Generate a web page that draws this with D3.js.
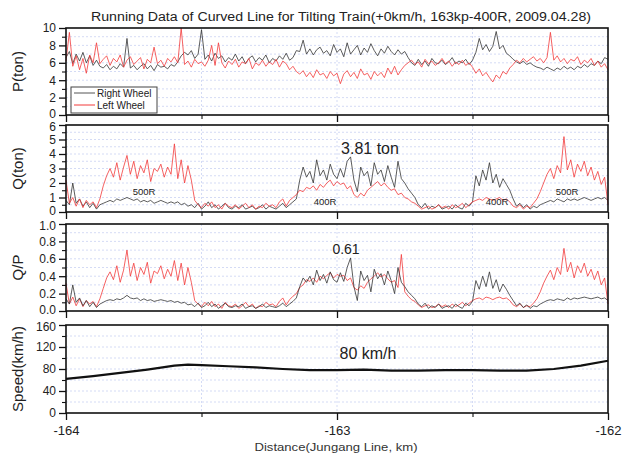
<!DOCTYPE html>
<html>
<head>
<meta charset="utf-8">
<script src="https://cdn.jsdelivr.net/npm/d3@7"></script>
<style>
  body { margin: 0; background: #fff; }
  text { font-family: "Liberation Sans", Arial, sans-serif; }
</style>
</head>
<body>
<div id="chart"></div>
<script>
// distance samples: -164 km onward, one reading every 12.5 m
var distStart = -164;
var distStep = 0.0125;

var pRight = [
  6.6, 7.3, 5.9, 7.0, 6.2, 7.2, 6.0, 6.8, 5.7, 6.3, 5.6,
  5.4, 5.8, 5.2, 5.6, 5.3, 5.9, 5.5, 8.8, 5.4, 5.7,
  5.2, 5.6, 5.9, 5.3, 5.7, 5.1, 5.8, 5.5, 5.6, 5.3,
  5.8, 5.6, 6.1, 6.8, 7.2, 6.9, 7.4, 6.5, 7.0, 9.8,
  6.4, 6.9, 6.2, 7.1, 6.5, 6.8, 6.1, 6.6, 6.3, 7.0,
  6.2, 6.7, 5.9, 6.5, 6.8, 6.1, 6.6, 6.3, 6.9, 6.0,
  6.5, 6.2, 6.8, 6.4, 7.1, 6.3, 6.6, 7.4,
  7.3, 8.6, 7.0, 7.6, 6.9, 7.5, 7.8, 7.1, 7.4, 6.8, 8.1, 7.2,
  7.6, 6.7, 8.3, 7.0, 7.5, 8.0, 6.9, 7.7, 7.2, 8.2,
  7.4, 6.8, 7.6, 7.1, 7.9, 7.3, 6.9, 7.5, 7.0, 7.3, 6.6,
  6.0, 5.7, 6.4, 5.8, 6.2, 5.6, 6.5, 6.0, 5.9, 6.3,
  5.8, 6.1, 6.6, 5.9, 6.2, 6.0, 6.4, 5.8, 6.3,
  7.2, 8.8, 7.5, 8.1, 7.3, 7.9, 9.6, 7.6, 8.0, 7.1, 6.8,
  6.4, 6.1, 5.9, 6.2, 5.8, 6.0, 5.7, 5.5, 5.4,
  5.2, 5.5, 5.3, 5.1, 5.4, 5.2, 5.6, 5.3, 5.5, 5.2,
  5.6, 5.4, 5.8, 5.5, 5.9, 5.7, 6.2, 5.9, 6.6, 6.4
];
var pLeft = [
  6.2, 9.5, 5.6, 6.8, 5.2, 6.5, 4.8, 6.9, 6.0, 8.3, 5.9,
  6.4, 6.8, 5.7, 6.5, 6.1, 6.9, 5.5, 6.3, 6.7, 5.8,
  6.2, 6.6, 5.3, 6.4, 6.0, 7.8, 5.9, 6.3, 5.6, 6.5,
  6.1, 6.7, 6.0, 10.0, 5.8, 6.2, 5.5, 6.4, 5.9, 6.1,
  5.6, 6.3, 8.0, 5.7, 8.3, 6.0, 5.4, 6.2, 5.8, 6.4,
  5.5, 6.1, 5.9, 6.5, 5.3, 6.0, 5.7, 6.3, 5.6, 6.1,
  5.8, 6.4, 5.5, 6.2, 5.9, 5.2, 5.6, 5.0,
  4.7, 5.1, 4.4, 4.9, 4.3, 5.2, 4.6, 4.8, 4.2, 5.0, 4.5, 4.8,
  3.6, 4.7, 5.1, 4.4, 4.9, 4.2, 5.3, 4.6, 4.8, 4.1,
  5.0, 4.5, 4.9, 4.3, 5.4, 4.7, 5.6, 4.6, 5.2, 5.7, 6.0,
  6.3, 5.8, 6.1, 5.5, 6.4, 5.9, 6.2, 5.7, 6.0, 6.5,
  5.9, 6.2, 5.6, 6.1, 5.8, 6.3, 5.7, 6.0, 5.5,
  4.8, 5.3, 4.5, 4.9, 4.3, 3.8, 4.6, 4.2, 5.0, 4.7, 5.4,
  5.8, 6.3, 6.0, 6.5, 6.1, 6.4, 6.7, 6.2, 6.5,
  6.0, 6.6, 9.5, 6.3, 6.8, 6.1, 6.5, 5.9, 6.4, 6.2,
  6.7, 5.8, 6.3, 6.0, 6.5, 5.7, 6.2, 5.5, 5.9, 5.2
];
var qRight = [
  0.8, 0.5, 2.0, 0.6, 0.9, 0.4, 0.7, 0.3, 0.6, 0.2, 0.5,
  0.6, 0.7, 0.8, 0.7, 0.9, 0.8, 0.9, 1.0, 0.9, 0.8,
  0.9, 0.7, 0.8, 0.7, 0.8, 0.6, 0.7, 0.8, 0.7, 0.6,
  0.7, 0.6, 0.7, 0.5, 0.6, 0.4, 0.5, 0.3, 0.6, 0.2,
  0.4, 0.7, 0.3, 0.5, 0.2, 0.4, 0.6, 0.3, 0.2, 0.4,
  0.3, 0.5, 0.2, 0.3, 0.4, 0.2, 0.3, 0.5, 0.2, 0.4,
  0.3, 0.2, 0.4, 0.6, 0.3, 0.5, 0.7, 0.9,
  2.2, 3.1, 2.4, 2.8, 2.0, 3.6, 2.5, 2.9, 2.2, 3.3, 2.6, 2.3,
  3.0, 2.4, 3.5, 3.8, 2.2, 1.4, 3.1, 2.5, 2.8, 1.8,
  3.4, 2.6, 2.9, 2.1, 3.2, 2.4, 1.7, 3.5, 2.3, 2.0, 1.6,
  1.3, 1.0, 0.5, 0.3, 0.6, 0.2, 0.4, 0.3, 0.5, 0.2,
  0.3, 0.4, 0.2, 0.5, 0.3, 0.2, 0.6, 0.4, 0.7,
  2.5, 1.8, 2.9, 2.2, 3.4, 2.0, 2.6, 1.7, 2.3, 1.9, 1.5,
  0.9, 0.4, 0.6, 0.3, 0.5, 0.2, 0.4, 0.3, 0.5,
  0.6, 0.7, 0.8, 0.7, 0.9, 0.8, 0.7, 0.9, 0.8, 0.9,
  0.8, 0.9, 1.0, 0.9, 0.8, 0.9, 1.0, 0.9, 1.0, 0.8
];
var qLeft = [
  2.2, 0.6, 1.0, 0.4, 0.9, 0.3, 0.8, 0.5, 0.7, 0.3, 0.9,
  1.8, 2.5, 3.0, 2.4, 3.4, 2.2, 3.1, 3.9, 2.6, 3.5,
  2.3, 3.2, 2.7, 3.6, 2.1, 3.0, 2.8, 3.3, 2.4, 3.1,
  2.6, 4.7, 2.3, 3.6, 2.0, 3.2, 2.2, 0.8, 0.5, 0.3,
  0.6, 0.4, 0.7, 0.3, 0.5, 0.2, 0.6, 0.4, 0.3, 0.5,
  0.2, 0.4, 0.6, 0.3, 0.5, 0.2, 0.4, 0.3, 0.6, 0.4,
  0.5, 0.3, 0.7, 0.9, 0.4, 0.8, 1.0, 1.2,
  1.5, 1.4, 1.7, 1.6, 1.8, 1.5, 1.9, 1.7, 2.0, 2.2, 1.8, 2.1,
  1.9, 2.0, 1.6, 1.8, 1.2, 1.0, 1.3, 1.1, 1.5, 1.7,
  1.9, 2.1, 1.8, 2.0, 1.7, 1.5, 1.6, 1.2, 1.3, 1.0, 0.9,
  0.7, 0.6, 0.4, 0.2, 0.3, 0.4, 0.2, 0.3, 0.5, 0.3,
  0.4, 0.2, 0.5, 0.3, 0.4, 0.6, 0.3, 0.5, 0.7,
  0.8, 0.9, 0.8, 1.0, 0.9, 0.8, 0.9, 1.0, 0.8, 0.9, 0.7,
  0.4, 0.3, 0.5, 0.2, 0.4, 0.3, 0.6, 0.9, 1.4,
  2.0, 2.6, 3.0, 2.3, 3.2, 2.7, 5.2, 2.9, 3.6, 2.4,
  3.3, 2.8, 3.5, 2.5, 3.1, 2.2, 2.8, 1.9, 2.4, 0.5
];
var qpRight = [
  0.14, 0.08, 0.30, 0.10, 0.15, 0.06, 0.12, 0.05, 0.10, 0.04, 0.08,
  0.10, 0.12, 0.13, 0.12, 0.14, 0.13, 0.15, 0.18, 0.15, 0.14,
  0.15, 0.12, 0.14, 0.12, 0.13, 0.11, 0.12, 0.13, 0.12, 0.11,
  0.12, 0.10, 0.11, 0.09, 0.10, 0.07, 0.08, 0.05, 0.09, 0.04,
  0.06, 0.10, 0.05, 0.08, 0.03, 0.06, 0.09, 0.05, 0.04, 0.06,
  0.05, 0.08, 0.03, 0.05, 0.06, 0.03, 0.05, 0.08, 0.04, 0.06,
  0.05, 0.04, 0.06, 0.09, 0.05, 0.08, 0.11, 0.15,
  0.28, 0.38, 0.33, 0.40, 0.30, 0.47, 0.35, 0.42, 0.32, 0.45, 0.36, 0.33,
  0.44, 0.34, 0.50, 0.61, 0.28, 0.12, 0.46, 0.35, 0.41, 0.22,
  0.48, 0.37, 0.43, 0.30, 0.46, 0.35, 0.20, 0.50, 0.33, 0.28, 0.22,
  0.18, 0.14, 0.08, 0.05, 0.09, 0.03, 0.06, 0.04, 0.08, 0.03,
  0.05, 0.06, 0.03, 0.08, 0.05, 0.03, 0.09, 0.06, 0.11,
  0.35, 0.25, 0.40, 0.28, 0.45, 0.26, 0.36, 0.22, 0.31, 0.25, 0.18,
  0.12, 0.06, 0.09, 0.04, 0.07, 0.03, 0.06, 0.05, 0.08,
  0.10, 0.12, 0.13, 0.12, 0.14, 0.13, 0.12, 0.15, 0.13, 0.15,
  0.14, 0.15, 0.16, 0.15, 0.14, 0.15, 0.16, 0.14, 0.15, 0.12
];
var qpLeft = [
  0.32, 0.08, 0.16, 0.06, 0.14, 0.05, 0.12, 0.08, 0.11, 0.05, 0.14,
  0.26, 0.38, 0.45, 0.36, 0.52, 0.33, 0.47, 0.70, 0.40, 0.55,
  0.35, 0.50, 0.42, 0.56, 0.32, 0.46, 0.43, 0.52, 0.37, 0.48,
  0.40, 0.58, 0.35, 0.55, 0.30, 0.50, 0.33, 0.12, 0.08, 0.05,
  0.10, 0.06, 0.11, 0.05, 0.08, 0.03, 0.10, 0.06, 0.05, 0.08,
  0.03, 0.06, 0.10, 0.05, 0.08, 0.03, 0.06, 0.05, 0.10, 0.07,
  0.08, 0.05, 0.11, 0.15, 0.07, 0.13, 0.17, 0.20,
  0.27, 0.30, 0.36, 0.34, 0.38, 0.33, 0.40, 0.37, 0.41, 0.44, 0.38, 0.42,
  0.40, 0.41, 0.35, 0.38, 0.27, 0.24, 0.29, 0.26, 0.33, 0.37,
  0.40, 0.44, 0.39, 0.42, 0.37, 0.33, 0.35, 0.27, 0.65, 0.22, 0.17,
  0.13, 0.11, 0.07, 0.04, 0.06, 0.07, 0.04, 0.05, 0.08, 0.05,
  0.07, 0.04, 0.08, 0.05, 0.07, 0.10, 0.06, 0.09, 0.12,
  0.14, 0.15, 0.13, 0.16, 0.15, 0.13, 0.15, 0.16, 0.14, 0.15, 0.12,
  0.07, 0.05, 0.08, 0.04, 0.06, 0.05, 0.09, 0.14, 0.22,
  0.32, 0.40, 0.47, 0.36, 0.50, 0.42, 0.72, 0.45, 0.56, 0.38,
  0.52, 0.44, 0.55, 0.40, 0.48, 0.36, 0.46, 0.30, 0.38, 0.08
];

var speedDist = [-164, -163.9, -163.8, -163.7, -163.6, -163.55, -163.5, -163.4, -163.3, -163.2, -163.1,
  -163, -162.9, -162.8, -162.7, -162.6, -162.5, -162.4, -162.3, -162.2, -162.1, -162];
var speedVals = [62, 67, 73, 79, 86, 88, 87, 85, 83, 80, 78,
  78, 79, 77, 77, 78, 78, 77, 77, 80, 86, 95];

var xTicks = [-164, -163, -162];
var xMinorTicks = [-163.5, -162.5];

var svg = d3.select('#chart').append('svg')
  .attr('width', 623)
  .attr('height', 456);

var x = d3.scaleLinear().domain([-164, -162]).range([66, 608]);

var toPoints = function(vals){
  return vals.map(function(v, i){ return [distStart + i * distStep, v]; });
};

// plain hyphen minus like the original plot
var plainFmt = function(d){ return String(d); };

var panels = [
  { top: 28, h: 87, domain: [0, 10], ticks: [0, 2, 4, 6, 8, 10], minor: [1, 3, 5, 7, 9],
    fmt: plainFmt, label: 'P(ton)',
    series: [{ pts: toPoints(pRight), color: '#333', w: 0.8 }, { pts: toPoints(pLeft), color: '#f23a3a', w: 0.8 }] },
  { top: 125, h: 87, domain: [0, 6], ticks: [0, 1, 2, 3, 4, 5, 6], minor: [0.5, 1.5, 2.5, 3.5, 4.5, 5.5],
    fmt: plainFmt, label: 'Q(ton)',
    series: [{ pts: toPoints(qRight), color: '#333', w: 0.8 }, { pts: toPoints(qLeft), color: '#f23a3a', w: 0.8 }] },
  { top: 224, h: 87, domain: [0, 1], ticks: [0, 0.2, 0.4, 0.6, 0.8, 1], minor: [0.1, 0.3, 0.5, 0.7, 0.9],
    fmt: d3.format('.1f'), label: 'Q/P',
    series: [{ pts: toPoints(qpLeft), color: '#f23a3a', w: 0.8 }, { pts: toPoints(qpRight), color: '#333', w: 0.8 }] },
  { top: 325, h: 88, domain: [0, 160], ticks: [0, 40, 80, 120, 160], minor: [20, 60, 100, 140],
    fmt: plainFmt, label: 'Speed(km/h)',
    series: [{ pts: d3.zip(speedDist, speedVals), color: '#111', w: 2.2 }] }
];

panels.forEach(function(p, pi){
  var y = d3.scaleLinear().domain(p.domain).range([p.top + p.h, p.top]);
  var g = svg.append('g');

  // dotted grid
  var gridY = p.ticks.concat(p.minor).filter(function(v){ return v > p.domain[0] && v < p.domain[1]; });
  g.selectAll('line.hg').data(gridY).enter().append('line')
    .attr('x1', 66).attr('x2', 608)
    .attr('y1', function(d){ return y(d); })
    .attr('y2', function(d){ return y(d); })
    .attr('stroke', '#c9d2f2')
    .attr('stroke-width', 0.8)
    .attr('stroke-dasharray', '2,2');
  g.selectAll('line.vg').data([-163.5, -163, -162.5]).enter().append('line')
    .attr('x1', function(d){ return x(d); })
    .attr('x2', function(d){ return x(d); })
    .attr('y1', p.top).attr('y2', p.top + p.h)
    .attr('stroke', '#c9d2f2')
    .attr('stroke-width', 0.8)
    .attr('stroke-dasharray', '2,2');

  var line = d3.line()
    .x(function(d){ return x(d[0]); })
    .y(function(d){ return y(d[1]); });

  p.series.forEach(function(s){
    g.append('path')
      .datum(s.pts)
      .attr('d', line)
      .attr('fill', 'none')
      .attr('stroke', s.color)
      .attr('stroke-width', s.w)
      .attr('stroke-linejoin', 'round');
  });

  g.append('rect')
    .attr('x', 66).attr('y', p.top)
    .attr('width', 542).attr('height', p.h)
    .attr('fill', 'none')
    .attr('stroke', '#111')
    .attr('stroke-width', 1.6);

  // y axis, major and minor ticks
  var yAx = g.append('g').attr('transform', 'translate(66,0)')
    .call(d3.axisLeft(y).tickValues(p.ticks).tickSize(7).tickPadding(3).tickFormat(p.fmt));
  yAx.select('.domain').remove();
  yAx.selectAll('line').attr('stroke', '#111').attr('stroke-width', 1.3);
  yAx.selectAll('text').attr('font-size', 12).attr('fill', '#222')
    .attr('font-family', '"Liberation Sans", Arial, sans-serif')
    .attr('dy', function(d){
      // nudge the end labels apart where two panels meet
      if (d === p.domain[0] && pi < panels.length - 1) return '0.2em';
      if (d === p.domain[1] && pi > 0) return '0.45em';
      return '0.32em';
    });
  var yMin = g.append('g').attr('transform', 'translate(66,0)')
    .call(d3.axisLeft(y).tickValues(p.minor).tickSize(4).tickFormat(''));
  yMin.select('.domain').remove();
  yMin.selectAll('line').attr('stroke', '#111').attr('stroke-width', 1.1);

  // x ticks under each panel
  var xAx = g.append('g').attr('transform', 'translate(0,' + (p.top + p.h) + ')')
    .call(d3.axisBottom(x).tickValues(xTicks).tickSize(7).tickPadding(6)
      .tickFormat(pi === panels.length - 1 ? plainFmt : ''));
  xAx.select('.domain').remove();
  xAx.selectAll('line').attr('stroke', '#111').attr('stroke-width', 1.3);
  xAx.selectAll('text').attr('font-size', 13).attr('fill', '#222')
    .attr('font-family', '"Liberation Sans", Arial, sans-serif');
  var xMin = g.append('g').attr('transform', 'translate(0,' + (p.top + p.h) + ')')
    .call(d3.axisBottom(x).tickValues(xMinorTicks).tickSize(4).tickFormat(''));
  xMin.select('.domain').remove();
  xMin.selectAll('line').attr('stroke', '#111').attr('stroke-width', 1.1);

  svg.append('text')
    .attr('transform', 'translate(23,' + (p.top + p.h / 2) + ') rotate(-90)')
    .attr('text-anchor', 'middle')
    .attr('font-size', 15)
    .attr('fill', '#222')
    .text(p.label);
});

// title
svg.append('text')
  .attr('x', 341).attr('y', 21)
  .attr('text-anchor', 'middle')
  .attr('font-size', 12.5)
  .attr('fill', '#222')
  .attr('textLength', 500)
  .attr('lengthAdjust', 'spacingAndGlyphs')
  .text('Running Data of Curved Line for Tilting Train(+0km/h, 163kp-400R, 2009.04.28)');

svg.append('text')
  .attr('x', 336).attr('y', 451)
  .attr('text-anchor', 'middle')
  .attr('font-size', 11)
  .attr('fill', '#333')
  .attr('textLength', 163)
  .attr('lengthAdjust', 'spacingAndGlyphs')
  .text('Distance(Jungang Line, km)');

// legend
var legend = svg.append('g');
legend.append('rect')
  .attr('x', 71).attr('y', 87).attr('width', 86).attr('height', 26)
  .attr('fill', '#fff').attr('stroke', '#444').attr('stroke-width', 1);
var legendItems = [{ name: 'Right Wheel', color: '#555' }, { name: 'Left Wheel', color: '#f23a3a' }];
legend.selectAll('line.li').data(legendItems).enter().append('line')
  .attr('x1', 74).attr('x2', 95)
  .attr('y1', function(d, i){ return 93 + i * 12; })
  .attr('y2', function(d, i){ return 93 + i * 12; })
  .attr('stroke', function(d){ return d.color; })
  .attr('stroke-width', 1);
legend.selectAll('text.lt').data(legendItems).enter().append('text')
  .attr('x', 97)
  .attr('y', function(d, i){ return 96.5 + i * 12; })
  .attr('font-size', 10)
  .attr('fill', '#222')
  .text(function(d){ return d.name; });

// annotations
var notes = [
  { t: '3.81 ton', x: 370, y: 154, s: 16 },
  { t: '500R', x: 144, y: 195, s: 9.5 },
  { t: '400R', x: 325, y: 205, s: 9.5 },
  { t: '400R', x: 497, y: 205, s: 9.5 },
  { t: '500R', x: 567, y: 195, s: 9.5 },
  { t: '0.61', x: 346, y: 254, s: 14 },
  { t: '80 km/h', x: 368, y: 359, s: 16 }
];
svg.selectAll('text.note').data(notes).enter().append('text')
  .attr('x', function(d){ return d.x; })
  .attr('y', function(d){ return d.y; })
  .attr('text-anchor', 'middle')
  .attr('font-size', function(d){ return d.s; })
  .attr('fill', '#222')
  .text(function(d){ return d.t; });
</script>
</body>
</html>
